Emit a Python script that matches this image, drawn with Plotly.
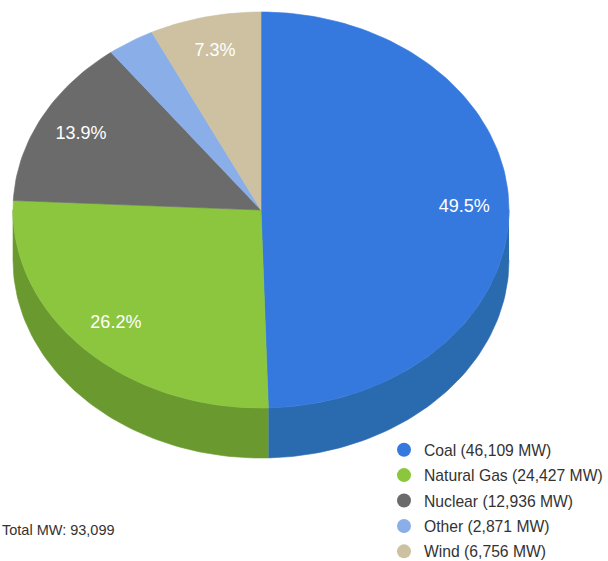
import numpy as np
import plotly.graph_objects as go

# Installed generating capacity by fuel source (MW)
sources = ["Coal", "Natural Gas", "Nuclear", "Other", "Wind"]
capacity_mw = [46109, 24427, 12936, 2871, 6756]

top_colors = ["#3579df", "#8cc63f", "#6b6b6b", "#8aaee8", "#cdc1a1"]
side_colors = ["#2a6aaf", "#6a9a2f", "#4f4f4f", "#6a8cc4", "#a99d80"]

W, H = 608, 561
# ellipse geometry of the tilted pie (pixel units)
CX, CY, RX, RY, DEPTH = 261, 210, 248, 198, 50
LABEL_R = 0.82

total = sum(capacity_mw)
shares = [v / total for v in capacity_mw]
edges = np.concatenate([[0.0], np.cumsum(shares)]) * 2 * np.pi


def rim(a0, a1, drop=0.0, n=120):
    t = np.linspace(a0, a1, max(int(n * (a1 - a0) / np.pi) + 2, 3))
    return CX + RX * np.sin(t), CY - RY * np.cos(t) + drop


fig = go.Figure()

# visible side walls (front half of the rim)
for i, src in enumerate(sources):
    a0 = max(edges[i], np.pi / 2)
    a1 = min(edges[i + 1], 3 * np.pi / 2)
    if a1 <= a0:
        continue
    xt, yt = rim(a0, a1)
    xb, yb = rim(a0, a1, DEPTH)
    fig.add_trace(go.Scatter(
        x=np.concatenate([xt, xb[::-1]]), y=np.concatenate([yt, yb[::-1]]),
        fill="toself", fillcolor=side_colors[i], mode="lines",
        line=dict(color=side_colors[i], width=0.6),
        hoverinfo="skip", showlegend=False))

# top faces of the slices
for i, src in enumerate(sources):
    xa, ya = rim(edges[i], edges[i + 1])
    fig.add_trace(go.Scatter(
        x=np.concatenate([[CX], xa, [CX]]), y=np.concatenate([[CY], ya, [CY]]),
        fill="toself", fillcolor=top_colors[i], mode="lines",
        line=dict(color=top_colors[i], width=0.6),
        name=src, hoverinfo="name", showlegend=False))

# percentage labels for slices wide enough to hold them
lx, ly, lt = [], [], []
for i, s in enumerate(shares):
    if s < 0.05:
        continue
    mid = (edges[i] + edges[i + 1]) / 2
    lx.append(CX + LABEL_R * RX * np.sin(mid))
    ly.append(CY - LABEL_R * RY * np.cos(mid))
    lt.append(f"{s * 100:.1f}%")
fig.add_trace(go.Scatter(
    x=lx, y=ly, text=lt, mode="text",
    textfont=dict(family="Arial, Liberation Sans", size=18, color="#ffffff"),
    hoverinfo="skip", showlegend=False))

# legend entries
for i, src in enumerate(sources):
    fig.add_trace(go.Scatter(
        x=[None], y=[None], mode="markers",
        marker=dict(symbol="circle", size=14, color=top_colors[i]),
        name=f"{src} ({capacity_mw[i]:,} MW)", legendgroup=src))

fig.add_annotation(
    x=0, y=530, xref="paper", yref="y",
    xanchor="left", yanchor="middle",
    text=f"Total MW: {total:,}", showarrow=False,
    font=dict(family="Arial, Liberation Sans", size=14.5, color="#333333"))

fig.update_layout(
    width=W, height=H,
    margin=dict(l=0, r=0, t=0, b=0, autoexpand=False),
    paper_bgcolor="white", plot_bgcolor="white",
    xaxis=dict(range=[0, W], visible=False, fixedrange=True),
    yaxis=dict(range=[H, 0], visible=False, fixedrange=True),
    legend=dict(
        x=384 / W, y=1 - 433 / H, xanchor="left", yanchor="top",
        traceorder="grouped", tracegroupgap=2, itemsizing="trace",
        font=dict(family="Arial, Liberation Sans", size=15.7, color="#333333"),
        bgcolor="rgba(0,0,0,0)"),
)

fig.write_html("out.html")
